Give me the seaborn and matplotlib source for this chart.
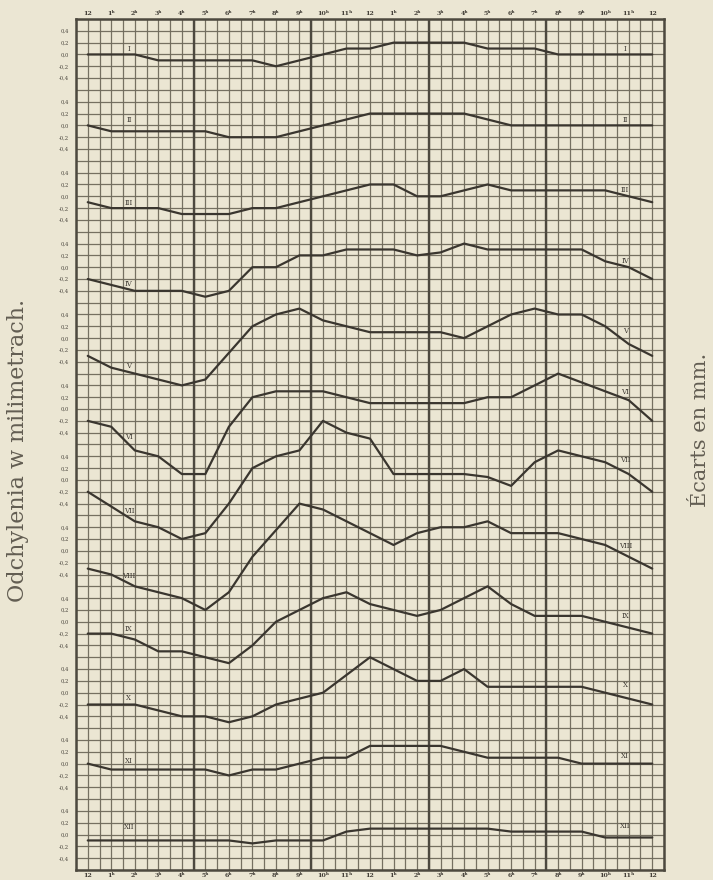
import numpy as np
import pandas as pd
import matplotlib
matplotlib.use("Agg")
import matplotlib.pyplot as plt
import seaborn as sns

# ---------------- data ----------------
hours = list(range(25))  # 0 (midnight) .. 24 (midnight)
hour_labels = ["12"] + [f"{h}ʰ" for h in range(1, 12)] + ["12"] + [f"{h}ʰ" for h in range(1, 12)] + ["12"]
months = ["I", "II", "III", "IV", "V", "VI", "VII", "VIII", "IX", "X", "XI", "XII"]

m_I    = [0, 0, 0, -0.1, -0.1, -0.1, -0.1, -0.1, -0.2, -0.1, 0, 0.1, 0.1, 0.2, 0.2, 0.2, 0.2, 0.1, 0.1, 0.1, 0, 0, 0, 0, 0]
m_II   = [0, -0.1, -0.1, -0.1, -0.1, -0.1, -0.2, -0.2, -0.2, -0.1, 0, 0.1, 0.2, 0.2, 0.2, 0.2, 0.2, 0.1, 0, 0, 0, 0, 0, 0, 0]
m_III  = [-0.1, -0.2, -0.2, -0.2, -0.3, -0.3, -0.3, -0.2, -0.2, -0.1, 0, 0.1, 0.2, 0.2, 0, 0, 0.1, 0.2, 0.1, 0.1, 0.1, 0.1, 0.1, 0, -0.1]
m_IV   = [-0.2, -0.3, -0.4, -0.4, -0.4, -0.5, -0.4, 0, 0, 0.2, 0.2, 0.3, 0.3, 0.3, 0.2, 0.25, 0.4, 0.3, 0.3, 0.3, 0.3, 0.3, 0.1, 0, -0.2]
m_V    = [-0.3, -0.5, -0.6, -0.7, -0.8, -0.7, -0.25, 0.2, 0.4, 0.5, 0.3, 0.2, 0.1, 0.1, 0.1, 0.1, 0, 0.2, 0.4, 0.5, 0.4, 0.4, 0.2, -0.1, -0.3]
m_VI   = [-0.2, -0.3, -0.7, -0.8, -1.1, -1.1, -0.3, 0.2, 0.3, 0.3, 0.3, 0.2, 0.1, 0.1, 0.1, 0.1, 0.1, 0.2, 0.2, 0.4, 0.6, 0.45, 0.3, 0.15, -0.2]
m_VII  = [-0.2, -0.45, -0.7, -0.8, -1.0, -0.9, -0.4, 0.2, 0.4, 0.5, 1.0, 0.8, 0.7, 0.1, 0.1, 0.1, 0.1, 0.05, -0.1, 0.3, 0.5, 0.4, 0.3, 0.1, -0.2]
m_VIII = [-0.3, -0.4, -0.6, -0.7, -0.8, -1.0, -0.7, -0.1, 0.35, 0.8, 0.7, 0.5, 0.3, 0.1, 0.3, 0.4, 0.4, 0.5, 0.3, 0.3, 0.3, 0.2, 0.1, -0.1, -0.3]
m_IX   = [-0.2, -0.2, -0.3, -0.5, -0.5, -0.6, -0.7, -0.4, 0, 0.2, 0.4, 0.5, 0.3, 0.2, 0.1, 0.2, 0.4, 0.6, 0.3, 0.1, 0.1, 0.1, 0, -0.1, -0.2]
m_X    = [-0.2, -0.2, -0.2, -0.3, -0.4, -0.4, -0.5, -0.4, -0.2, -0.1, 0, 0.3, 0.6, 0.4, 0.2, 0.2, 0.4, 0.1, 0.1, 0.1, 0.1, 0.1, 0, -0.1, -0.2]
m_XI   = [0, -0.1, -0.1, -0.1, -0.1, -0.1, -0.2, -0.1, -0.1, 0, 0.1, 0.1, 0.3, 0.3, 0.3, 0.3, 0.2, 0.1, 0.1, 0.1, 0.1, 0, 0, 0, 0]
m_XII  = [-0.1, -0.1, -0.1, -0.1, -0.1, -0.1, -0.1, -0.15, -0.1, -0.1, -0.1, 0.05, 0.1, 0.1, 0.1, 0.1, 0.1, 0.1, 0.05, 0.05, 0.05, 0.05, -0.05, -0.05, -0.05]

series = [m_I, m_II, m_III, m_IV, m_V, m_VI, m_VII, m_VIII, m_IX, m_X, m_XI, m_XII]
panel_tick_values = [0.4, 0.2, 0.0, -0.2, -0.4]
panel_tick_labels = ["0,4", "0,2", "0,0", "-0,2", "-0,4"]

# ---------------- layout / style ----------------
PAPER = "#ebe6d3"
GRID = "#6f6a5b"
HEAVY = "#4d493f"
INK = "#3a362f"
TXT = "#625d52"
SPACING = 1.2  # vertical distance between panels (mm) = 6 grid cells

serif = ["DejaVu Serif", "Liberation Serif"]

sns.set_style("white")
plt.rcParams["font.family"] = serif

rows = []
for k, (name, vals) in enumerate(zip(months, series)):
    for h, v in zip(hours, vals):
        rows.append({"hour": h, "month": name, "value": v, "y": v - SPACING * k})
df = pd.DataFrame(rows)

fig = plt.figure(figsize=(7.13, 8.8), dpi=100, facecolor=PAPER)
ax = fig.add_axes([76 / 713, 10 / 880, 588 / 713, 851 / 880])
ax.set_facecolor(PAPER)

y_top = 0.6
y_bot = -SPACING * 11 - 0.6
ax.set_xlim(-0.5, 24.5)
ax.set_ylim(y_bot, y_top)

# fine grid (graph paper): keep minor ticks even where they coincide with labels
ax.xaxis.remove_overlapping_locs = False
ax.yaxis.remove_overlapping_locs = False
ax.set_xticks(np.arange(-0.5, 24.51, 0.5), minor=True)
ax.set_yticks(np.round(np.arange(y_bot, y_top + 0.001, 0.2), 4), minor=True)
ax.grid(which="minor", color=GRID, lw=0.9, alpha=0.95)
ax.grid(which="major", visible=False)
for xv in [4.5, 9.5, 14.5, 19.5]:
    ax.axvline(xv, color=HEAVY, lw=1.7, zorder=1)
for s in ax.spines.values():
    s.set_visible(True)
    s.set_color(HEAVY)
    s.set_linewidth(1.8)

# hour labels top & bottom
ax.set_xticks(hours)
ax.set_xticklabels(hour_labels)
ax.tick_params(axis="x", which="both", length=0, pad=2, labelsize=4.5,
               labeltop=True, labelbottom=True, labelcolor="#3f3b34")
for lab in ax.get_xticklabels():
    lab.set_fontweight("bold")

# per-panel y labels
yt, yl = [], []
for k in range(len(months)):
    for v, l in zip(panel_tick_values, panel_tick_labels):
        yt.append(round(v - SPACING * k, 4))
        yl.append(l)
ax.set_yticks(yt)
ax.set_yticklabels(yl)
ax.tick_params(axis="y", which="both", length=0, pad=5, labelsize=3.8, labelcolor="#4a463e")

# curves
sns.lineplot(data=df, x="hour", y="y", units="month", estimator=None,
             color=INK, lw=1.6, ax=ax, zorder=3, legend=False)
ax.set_xlabel("")
ax.set_ylabel("")

# roman numerals near both ends of each curve
left_pos = [0.1, 0.09, -0.11, -0.28, -0.48, -0.47, -0.52, -0.42, -0.13, -0.09, 0.05, 0.12]
right_pos = [0.1, 0.09, 0.11, 0.1, 0.12, 0.29, 0.33, 0.09, 0.1, 0.13, 0.13, 0.14]
for k, name in enumerate(months):
    ax.text(1.75, left_pos[k] - SPACING * k, name, fontsize=5, color="#3f3b34",
            ha="center", va="center", zorder=4)
    ax.text(22.85, right_pos[k] - SPACING * k, name, fontsize=5, color="#3f3b34",
            ha="center", va="center", zorder=4)

# side captions
fig.text(18 / 713, 1 - 450 / 880, "Odchylenia w milimetrach.", rotation=90,
         ha="center", va="center", fontsize=16, color=TXT, family=serif)
fig.text(700 / 713, 1 - 430 / 880, "Écarts en mm.", rotation=90,
         ha="center", va="center", fontsize=15, color=TXT, family=serif)

fig.savefig("out.png", dpi=100, facecolor=PAPER)
